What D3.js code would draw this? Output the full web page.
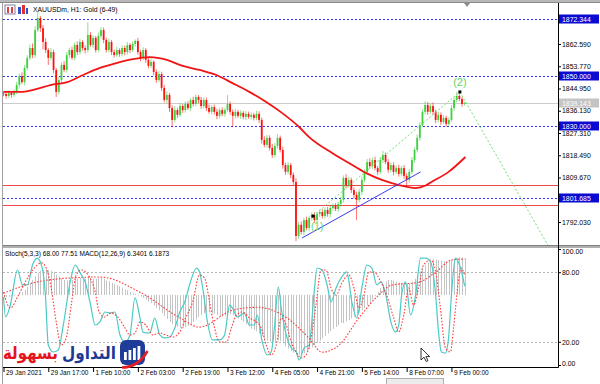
<!DOCTYPE html>
<html>
<head>
<meta charset="utf-8">
<script src="https://cdn.jsdelivr.net/npm/d3@7"></script>
<style>
  html, body { margin: 0; padding: 0; background: #fff; }
  svg { display: block; }
</style>
</head>
<body>
<svg id="chart" width="600" height="384"></svg>
<script>
// ---- data (XAUUSDm H1) ----
const firstOpen = 1843.0;
const closes = [
  1842.8,1842.0,1843.2,1842.4,1843.6,1846.4,1849.9,1847.5,1853.1,1857.1,1861.0,1858.2,1868.1,1872.9,1868.9,1863.4,1860.2,1857.1,1859.4,1852.3,
  1843.6,1848.3,1854.3,1852.3,1858.2,1860.2,1857.1,1862.2,1859.4,1863.4,1861.0,1860.2,1866.2,1862.2,1865.0,1860.2,1865.8,1868.1,1864.2,1860.2,
  1863.4,1859.4,1858.2,1860.2,1858.6,1861.0,1859.4,1862.2,1860.2,1862.6,1863.8,1859.4,1857.1,1860.2,1856.3,1853.9,1855.5,1851.5,1848.3,1850.7,
  1845.2,1840.4,1842.4,1837.2,1832.5,1836.4,1834.5,1838.0,1836.4,1838.8,1837.2,1840.4,1838.8,1841.6,1840.4,1838.0,1840.4,1837.2,1835.7,1837.6,
  1835.7,1834.1,1836.4,1834.9,1836.4,1838.8,1835.7,1834.1,1835.7,1834.1,1835.3,1833.7,1834.9,1833.7,1834.5,1833.3,1834.9,1832.5,1824.6,1822.6,
  1825.4,1821.4,1818.6,1822.2,1825.4,1820.6,1814.6,1811.9,1814.6,1810.7,1807.9,1786.5,1790.9,1788.1,1792.8,1789.7,1793.6,1794.8,1792.8,1795.2,
  1796.0,1794.4,1796.8,1795.2,1797.6,1798.4,1797.2,1799.2,1800.8,1809.5,1806.7,1808.7,1804.7,1802.8,1800.8,1804.0,1808.7,1811.9,1815.8,1814.2,
  1816.6,1813.4,1811.9,1816.6,1818.6,1815.8,1812.7,1814.6,1811.9,1813.4,1811.1,1813.4,1810.3,1808.7,1811.9,1816.6,1820.6,1825.4,1830.5,1835.7,
  1838.4,1835.7,1838.0,1835.7,1832.5,1834.5,1831.7,1833.3,1830.9,1832.5,1837.2,1840.4,1842.0,1840.8,1838.8,1839.1
];
// wick length above / below the body, in dollars
const wickUp = [
  0.8,0.6,1.0,0.7,0.9,1.2,1.0,1.5,1.2,1.0,1.4,1.8,1.5,2.4,0.8,1.2,1.5,0.8,1.6,1.0,
  0.8,1.2,1.0,1.5,1.2,0.9,1.3,1.0,1.4,1.2,0.8,1.0,5.0,1.2,1.0,0.8,1.4,1.2,1.0,0.9,
  1.2,0.8,1.0,1.3,0.7,1.1,0.9,1.2,0.8,1.0,0.6,1.2,0.9,1.1,0.8,1.0,1.3,0.7,1.0,1.2,
  0.9,1.1,1.4,0.8,1.0,1.5,0.9,1.2,0.8,1.0,1.1,0.7,1.3,1.0,0.8,1.2,0.9,1.0,1.4,0.8,
  1.0,1.2,0.9,1.1,0.8,3.6,1.0,0.9,1.2,0.8,1.0,0.7,1.1,0.9,1.0,0.8,1.2,1.0,0.9,1.4,
  1.2,1.0,1.6,1.1,1.5,0.9,1.3,1.0,1.2,0.8,1.0,1.5,1.2,1.4,1.0,1.3,0.9,1.1,1.2,0.8,
  1.0,1.1,0.9,1.2,0.8,1.0,1.1,0.9,1.2,1.0,1.5,1.2,0.9,1.0,1.3,1.1,1.4,1.0,1.2,1.5,
  1.0,1.3,0.9,1.2,1.6,1.0,1.2,0.9,1.1,1.0,1.3,0.8,1.2,1.0,1.1,1.2,1.0,1.4,1.2,1.0,
  1.5,1.2,1.0,1.4,0.9,1.2,1.0,1.1,0.9,1.0,1.2,1.0,1.6,1.2,0.8,0.6
];
const wickDn = [
  0.9,1.0,0.7,1.2,0.8,0.9,1.1,0.8,1.3,1.0,0.9,1.2,1.0,0.8,1.5,3.0,1.2,2.8,1.0,1.3,
  2.0,1.0,1.2,0.9,1.1,1.3,0.8,1.0,1.2,0.9,1.1,1.4,1.0,0.8,1.2,1.0,0.9,1.1,1.3,1.0,
  0.9,1.2,1.0,0.8,1.1,0.9,1.3,1.0,1.2,0.8,1.0,1.1,1.4,0.9,1.2,1.0,0.8,1.3,1.1,0.9,
  1.2,1.0,1.3,1.5,2.8,1.0,1.2,0.9,1.1,1.0,0.8,1.2,1.0,0.9,1.3,1.1,1.0,1.2,0.8,1.0,
  1.1,1.3,0.9,1.0,1.2,0.8,1.1,4.4,1.0,0.9,1.2,1.0,1.3,0.8,1.1,1.0,0.9,1.2,1.5,1.0,
  1.3,1.0,1.2,0.9,1.1,1.0,1.4,1.2,1.0,1.3,1.1,2.0,1.2,1.0,1.4,0.9,1.2,1.0,1.1,0.8,
  1.2,1.0,0.9,1.1,1.3,1.0,0.8,1.2,1.0,1.1,1.4,1.0,1.2,1.5,8.0,1.0,1.2,0.9,1.1,1.0,
  1.2,0.9,1.3,1.0,1.1,0.8,1.2,1.0,1.4,0.9,1.1,1.0,1.2,2.0,1.0,0.9,1.1,1.0,1.2,0.8,
  1.0,1.2,0.9,1.1,1.3,1.0,1.2,0.8,1.1,1.0,0.9,1.2,1.0,0.8,1.1,0.7
];

// moving average (red), sampled at bar positions
const maBar = [0,6.4,11.3,17.8,24.2,30.2,36.6,43.1,49.1,55.5,62,68,74.4,80.8,86.9,93.3,99.7,105.8,112.2,116,124.7,131.1,137.5,143.6,150,156.4,160.2,162.4,168.9,175.3];
const maVal = [1843.6,1843.6,1844.4,1846.3,1847.5,1850.3,1853.1,1855.1,1856.6,1857.4,1856.3,1853.9,1852.3,1850.3,1847.1,1843.6,1839.6,1835.2,1829.7,1825.7,1819.4,1815.4,1811.5,1808.7,1806.7,1805.5,1806.5,1807.9,1811.9,1817.8];

// horizontal levels
const blueLevels = [1872.344, 1850.000, 1830.000, 1801.685];
const redLevels = [1806.7, 1798.8];
const lastPrice = 1839.143;
const priceTicks = [1862.590,1853.770,1844.950,1836.130,1827.310,1818.490,1809.670,1792.030];

// trend line and wave count
const trendBar = [113.3, 158.3];
const trendVal = [1785.7, 1811.9];
const waveBar = [117.5, 173.2, 206.6];
const waveVal = [1794.4, 1843.6, 1782.9];

// stochastic %K / %D
const stochBar = [0,0.8,2.6,5.3,7.2,9.1,11,12.8,14.7,15.9,17,18.9,20.8,22.7,25.3,27.2,29.1,31,32.9,34.8,36.6,38.5,40.4,42.3,44.2,46.1,48,49.9,51.8,52.9,55.5,57.4,59.3,61.2,63.1,65,66.9,68.8,70.6,73.3,74.4,75.6,77.4,79.3,82,83.9,85.8,86.9,88.8,91.4,93.3,95.2,96.3,98.2,100.1,101.6,102.8,104.3,105.4,107.3,109.2,111.1,112.2,114.1,116,117.9,119,120.9,122.8,124.3,126.2,128.4,130.3,132.2,134.1,136,137.9,139.8,141.7,143.2,145.1,147,148.8,150,151.1,152.6,154.5,156.4,158.3,160.2,162.1,164,165.1,166.2,167.7,168.9,170,171.5,172.6,173.7,175];
const stochK = [58.6,41.4,51.7,81.9,69.0,69.0,86.2,92.2,83.6,60.3,17.2,11.2,12.9,34.5,71.6,86.2,79.3,71.6,53.4,34.5,37.1,45.7,44.8,45.7,25.9,19.8,25.9,57.8,40.5,28.4,27.6,40.5,25.9,23.3,24.1,31.9,45.7,54.3,69.0,83.6,80.2,66.4,37.1,21.6,21.6,25.9,51.7,49.1,41.4,44.8,34.5,34.5,43.1,19.8,8.6,11.2,31.9,67.2,49.1,25.9,14.7,11.2,4.3,14.7,17.2,62.9,83.6,81.9,69.0,54.3,66.4,75.9,80.2,54.3,40.5,66.4,86.2,83.6,69.0,71.6,60.3,37.1,28.4,34.5,60.3,71.6,43.1,60.3,92.2,92.2,88.8,60.3,28.4,11.2,10.3,23.3,60.3,92.2,88.8,81.9,68.0];
const sigBar = [0,2.6,5.7,9.1,12.8,14.4,16.2,18.1,20,21.9,23.8,25.7,27.6,29.5,32.1,34.8,36.3,38.2,40.8,43.4,46.1,48,49.9,51.8,54,56.7,59.3,61.6,64.2,66.9,69.1,71.8,74.4,76.3,78.2,80.1,82,84.6,86.5,88.4,90.7,93.3,96,97.8,99.7,101.6,103.5,105.4,107.3,109.2,111.1,113,114.8,116.7,118.6,120.5,122.4,124.3,126.2,128.4,131.1,133,134.9,136.8,138.6,140.5,143.2,145.4,148.1,150,151.9,153.8,155.6,157.5,159.4,162.1,164,165.8,167.7,169.6,170.8,172.6,173.7,175];
const stochD = [62.9,49.1,60.3,75.0,86.2,88.0,83.6,66.4,37.1,17.2,23.3,51.7,77.6,81.9,77.6,62.9,45.7,41.4,44.8,41.4,31.9,25.9,27.6,37.1,34.5,25.9,27.6,25.9,24.1,28.4,40.5,54.3,77.6,75.0,54.3,31.9,19.8,19.8,31.9,43.1,45.7,40.5,37.1,31.9,17.2,8.6,17.2,40.5,34.5,19.8,11.2,6.0,8.6,23.3,51.7,81.9,81.9,66.4,60.3,70.7,77.6,66.4,49.1,60.3,80.2,80.2,71.6,60.3,40.5,28.4,43.1,66.4,51.7,66.4,86.2,90.5,80.2,49.1,14.7,11.2,31.9,71.6,83.6,77.5];
const stochLevels = [80, 20];

// MACD main (histogram, one per bar) and signal
const macdHist = [
  -0.5,-0.4,-0.3,-0.3,-0.2,0,0.3,0.5,0.9, 1.4,2.0,2.6,3.2,3.8,4.2,
  4.3,4.4,4.3,4.2,4.0,3.5, 3.2,2.8,2.6,2.5,2.6,2.6,2.7,2.8,
  2.9,2.8,2.8,3.0,2.9,2.8,2.8,2.9,3.0,2.8,2.5,2.4,
  2.1,1.9,1.7,1.5,1.3,1.0,0.8,0.5,0.3,0.2,
  -0.1,-0.3,-0.5,-0.8,-1.1,-1.4,-1.8,-2.2,-2.6,-3.1,-3.6,-4.1,-4.6,-5.0,-5.2,-5.4,-5.6,-5.6,
  -5.5,-5.3,-5.0,-4.6,-4.2,-3.8,-3.4,-3.1,-3.0,-3.0,-3.1,-3.2,
  -3.4,-3.6,-3.7,-3.6,-3.4,-3.3,-3.5,-3.7,-4.0,-4.3,-4.6,-5.0,-5.4,
  -5.8,-6.0,-6.2,-6.6,-7.0,-7.5,-7.8,-8.0,-8.2,-8.0,-7.8,-7.9,
  -8.3,-8.8,-9.2,-9.6,-9.9,-10.2,-10.3,-10.2,-10.0,-9.7,-9.3,
  -9.0,-8.6,-8.2,-7.8,-7.4,-7.0,-6.6,-6.2,-5.8,-5.5,-5.2,-4.8,
  -4.8,-4.5,-4.3,-4.0,-3.7,-3.4,-3.0,-2.6,-2.2,-1.8,-1.3,-0.8,-0.2,0.5,
  1.2,1.8,2.3,2.6,2.6,2.5,2.3,2.2,2.1,2.0,
  1.9,2.0,2.3,2.8,3.4,4.0,4.6,5.2,5.6,5.9,6.1,6.1,6.0,5.9,5.8,5.8,5.9,6.0,6.2,6.4,6.5,6.4,6.34
];
const macdSigBar = [0,11.3,24.2,36.6,51.8,66.9,74.4,86.9,96.3,105.8,116,120.9,127.3,134.9,142.4,147.3,157.5,164,170,175];
const macdSig = [0.3,2.1,2.9,3.1,0.5,-3.9,-5.5,-2.6,-2.1,-3.4,-7.4,-9.8,-8.6,-3.9,0.0,1.7,2.2,3.9,6.0,6.19];

const timeTicks = [0,17,34,51,68,85,102,119,136,153,170];
const timeLabels = ["29 Jan 2021","29 Jan 17:00","1 Feb 10:00","2 Feb 03:00","2 Feb 19:00","3 Feb 12:00","4 Feb 05:00","4 Feb 21:00","5 Feb 14:00","8 Feb 07:00","9 Feb 00:00"];

// ---- layout ----
const L = 3, R = 558, mainTop = 3, mainBot = 245, indTop = 248, indBot = 367;
const FONT = "'Liberation Sans', Arial, sans-serif";
const upColor = "#3fd03f", dnColor = "#ff1010";

const svg = d3.select("#chart");

const x = d3.scaleLinear().domain([0, 175]).range([3.5, 3.5 + 175 * 2.635]);
const y = d3.scaleLinear().domain([1782.92, 1878.84]).range([mainBot, mainTop]);
const yStoch = d3.scaleLinear().domain([0, 100]).range([365, 249]);
const yMacd = d3.scaleLinear().domain([-12, 7.9]).range([365, 249]);

const defs = svg.append("defs");
defs.append("clipPath").attr("id", "clipMain")
  .append("rect").attr("x", L).attr("y", mainTop).attr("width", R - L).attr("height", mainBot - mainTop);
defs.append("clipPath").attr("id", "clipInd")
  .append("rect").attr("x", L).attr("y", indTop).attr("width", R - L).attr("height", indBot - indTop);

// frame
svg.append("rect").attr("x", 0).attr("y", 0).attr("width", 600).attr("height", 3).attr("fill", "#b8b8b8");
svg.append("line").attr("x1", 0).attr("x2", 600).attr("y1", 2.5).attr("y2", 2.5).attr("stroke", "#8a8a8a");
svg.append("line").attr("x1", 2.5).attr("x2", 2.5).attr("y1", 3).attr("y2", 384).attr("stroke", "#a0a0a0");
svg.append("rect").attr("x", L).attr("y", mainBot).attr("width", 600 - L).attr("height", 3).attr("fill", "#b0b0b0");
svg.append("line").attr("x1", L).attr("x2", 600).attr("y1", mainBot + 0.5).attr("y2", mainBot + 0.5).attr("stroke", "#808080");

// ---- main window ----
const gMain = svg.append("g").attr("clip-path", "url(#clipMain)");

gMain.selectAll(".blue-level").data(blueLevels).enter().append("line")
  .attr("x1", L).attr("x2", R)
  .attr("y1", d => Math.round(y(d)) + 0.5).attr("y2", d => Math.round(y(d)) + 0.5)
  .attr("stroke", "#3434ff").attr("stroke-dasharray", "2,2");

gMain.selectAll(".red-level").data(redLevels).enter().append("line")
  .attr("x1", L).attr("x2", R)
  .attr("y1", d => Math.round(y(d)) + 0.5).attr("y2", d => Math.round(y(d)) + 0.5)
  .attr("stroke", "#f04848");

gMain.append("line").attr("x1", L).attr("x2", R)
  .attr("y1", Math.round(y(lastPrice)) + 0.5).attr("y2", Math.round(y(lastPrice)) + 0.5)
  .attr("stroke", "#cccccc");

const bars = closes.map((c, i) => {
  const o = i === 0 ? firstOpen : closes[i - 1];
  return { i, o, c, h: Math.max(o, c) + wickUp[i], l: Math.min(o, c) - wickDn[i] };
});

const candle = gMain.selectAll(".candle").data(bars).enter().append("g");
candle.append("line")
  .attr("x1", d => x(d.i)).attr("x2", d => x(d.i))
  .attr("y1", d => y(d.h)).attr("y2", d => y(d.l))
  .attr("stroke", d => d.c >= d.o ? upColor : dnColor)
  .attr("stroke-width", 0.8).attr("opacity", 0.75);
candle.append("rect")
  .attr("x", d => x(d.i) - 0.9).attr("width", 1.8)
  .attr("y", d => y(Math.max(d.o, d.c)))
  .attr("height", d => Math.max(0.8, Math.abs(y(d.o) - y(d.c))))
  .attr("fill", d => d.c >= d.o ? upColor : dnColor);

const maLine = d3.line().x(d => x(d[0])).y(d => y(d[1])).curve(d3.curveMonotoneX);
gMain.append("path").datum(maBar.map((b, k) => [b, maVal[k]]))
  .attr("d", maLine).attr("fill", "none").attr("stroke", "#f01414").attr("stroke-width", 1.8);

gMain.append("line")
  .attr("x1", x(trendBar[0])).attr("y1", y(trendVal[0]))
  .attr("x2", x(trendBar[1])).attr("y2", y(trendVal[1]))
  .attr("stroke", "#3c3cf0").attr("stroke-width", 1);

const wavePts = waveBar.map((b, k) => [x(b), y(waveVal[k])]);
gMain.append("path").attr("d", d3.line()(wavePts))
  .attr("fill", "none").attr("stroke", "#72dc72").attr("stroke-width", 1).attr("stroke-dasharray", "2,2");

gMain.selectAll(".wave-mark").data(wavePts.slice(0, 2)).enter().append("rect")
  .attr("x", d => d[0] - 1.5).attr("y", d => d[1] - 1.5).attr("width", 3).attr("height", 3)
  .attr("fill", "#000");

gMain.append("text").attr("x", wavePts[1][0]).attr("y", wavePts[1][1] - 6)
  .attr("text-anchor", "middle").attr("font-family", FONT).attr("font-size", 11)
  .attr("fill", "#5fd65f").text("(2)");
gMain.append("text").attr("x", wavePts[0][0] + 4).attr("y", wavePts[0][1] + 14)
  .attr("text-anchor", "middle").attr("font-family", FONT).attr("font-size", 10)
  .attr("fill", "#5fd65f").text("(1)");

// chart shift marker
svg.append("path").attr("d", "M464,3 L470,3 L467,7 Z").attr("fill", "#8c8c8c");

// header
svg.append("rect").attr("x", 5).attr("y", 5).attr("width", 10).attr("height", 9).attr("fill", "#fff").attr("stroke", "#8080a0");
svg.append("rect").attr("x", 7).attr("y", 7).attr("width", 2).attr("height", 6).attr("fill", "#e04040");
svg.append("rect").attr("x", 11).attr("y", 7).attr("width", 2).attr("height", 6).attr("fill", "#e04040");
svg.append("rect").attr("x", 18).attr("y", 7).attr("width", 3).attr("height", 7).attr("fill", "#3050d0");
svg.append("rect").attr("x", 22).attr("y", 5).attr("width", 3).attr("height", 9).attr("fill", "#e03030");
svg.append("rect").attr("x", 26).attr("y", 8).attr("width", 2).attr("height", 6).attr("fill", "#3050d0");
svg.append("text").attr("x", 33).attr("y", 12).attr("font-family", FONT).attr("font-size", 6.8)
  .attr("fill", "#000").text("XAUUSDm, H1:  Gold (6-49)");

// price axis
const priceAxis = svg.append("g").attr("transform", `translate(${R},0)`)
  .call(d3.axisRight(y).tickValues(priceTicks).tickSize(3).tickPadding(1).tickFormat(d3.format(".3f")));
priceAxis.select(".domain").remove();
priceAxis.selectAll("text").attr("font-family", FONT).attr("font-size", 6.9).attr("fill", "#000");
priceAxis.selectAll("line").attr("stroke", "#000");

const boxes = svg.selectAll(".level-box").data(blueLevels.map(v => ({ v, bg: "#0a0ad2" })).concat([{ v: lastPrice, bg: "#c4c4c4" }]))
  .enter().append("g").attr("transform", d => `translate(${R + 1},${Math.round(y(d.v))})`);
boxes.append("rect").attr("x", 0).attr("y", -4.5).attr("width", 40).attr("height", 9).attr("fill", d => d.bg);
boxes.append("text").attr("x", 3).attr("y", 2.5).attr("font-family", FONT).attr("font-size", 6.9)
  .attr("fill", "#fff").text(d => d3.format(".3f")(d.v));

// ---- indicator window ----
const gInd = svg.append("g").attr("clip-path", "url(#clipInd)");

gInd.selectAll(".lvl").data(stochLevels).enter().append("line")
  .attr("x1", L).attr("x2", R)
  .attr("y1", d => Math.round(yStoch(d)) + 0.5).attr("y2", d => Math.round(yStoch(d)) + 0.5)
  .attr("stroke", "#b4b4b4").attr("stroke-dasharray", "2,2");

gInd.selectAll(".hist").data(macdHist).enter().append("line")
  .attr("x1", (d, i) => Math.round(x(i)) + 0.5).attr("x2", (d, i) => Math.round(x(i)) + 0.5)
  .attr("y1", yMacd(0)).attr("y2", d => yMacd(d))
  .attr("stroke", "#c4c4c4").attr("stroke-width", 1);

const indLine = (sc) => d3.line().x(d => x(d[0])).y(d => sc(d[1])).curve(d3.curveMonotoneX);

gInd.append("path").datum(macdSigBar.map((b, k) => [b, macdSig[k]]))
  .attr("d", indLine(yMacd)).attr("fill", "none")
  .attr("stroke", "#ff3c3c").attr("stroke-width", 1.1).attr("stroke-dasharray", "1.6,1.6");

gInd.append("path").datum(stochBar.map((b, k) => [b, stochK[k]]))
  .attr("d", indLine(yStoch)).attr("fill", "none")
  .attr("stroke", "#4ccac4").attr("stroke-width", 1.2);

gInd.append("path").datum(sigBar.map((b, k) => [b, stochD[k]]))
  .attr("d", indLine(yStoch)).attr("fill", "none")
  .attr("stroke", "#ff3c3c").attr("stroke-width", 1.1).attr("stroke-dasharray", "1.6,1.6");

svg.append("text").attr("x", 5).attr("y", 256).attr("font-family", FONT).attr("font-size", 6.6)
  .attr("fill", "#000").text("Stoch(5,3,3) 68.00 77.51 MACD(12,26,9) 6.3401 6.1873");

const stochAxis = svg.append("g").attr("transform", `translate(${R},0)`)
  .call(d3.axisRight(yStoch).tickValues([100, 80, 20, 0]).tickSize(3).tickPadding(1).tickFormat(d3.format(".2f")));
stochAxis.select(".domain").remove();
stochAxis.selectAll("line").attr("stroke", "#000");
stochAxis.selectAll("text").attr("font-family", FONT).attr("font-size", 6.9).attr("fill", "#000")
  .attr("dy", d => d === 100 ? "0.62em" : d === 0 ? "0.05em" : "0.32em");

// ---- time axis ----
const timeAxis = svg.append("g").attr("transform", `translate(0,${indBot})`)
  .call(d3.axisBottom(x).tickValues(timeTicks).tickSize(5).tickFormat((d, k) => timeLabels[k]));
timeAxis.select(".domain").remove();
timeAxis.selectAll("line").attr("stroke", "#000");
timeAxis.selectAll("text").attr("font-family", FONT).attr("font-size", 6.5).attr("fill", "#000")
  .attr("text-anchor", "start").attr("x", 2).attr("y", 3.5).attr("dy", "0.71em");

// axis borders
svg.append("line").attr("x1", R + 0.5).attr("x2", R + 0.5).attr("y1", mainTop).attr("y2", indBot + 0.5).attr("stroke", "#000");
svg.append("line").attr("x1", L).attr("x2", R + 0.5).attr("y1", indBot + 0.5).attr("y2", indBot + 0.5).attr("stroke", "#000");

// bottom tab
svg.append("rect").attr("x", 386.5).attr("y", 378.5).attr("width", 57).attr("height", 7)
  .attr("fill", "#ececec").attr("stroke", "#b0b0b0");

// ---- logo ----
const logo = svg.append("g");
function fitWidth(sel, x0, x1, baseline, stretchY) {
  const b = sel.node().getBBox();
  const s = (x1 - x0) / b.width;
  sel.attr("transform", `translate(${x0 - b.x * s},${baseline}) scale(${s},${s * stretchY})`);
}
const t1 = logo.append("text").attr("x", 0).attr("y", 0)
  .attr("font-family", "'DejaVu Sans', sans-serif").attr("font-weight", "bold").attr("font-size", 20)
  .attr("fill", "#e3141c").text("بسهولة");
fitWidth(t1, 3, 58, 359, 1.15);
const t2 = logo.append("text").attr("x", 0).attr("y", 0)
  .attr("font-family", "'DejaVu Sans', sans-serif").attr("font-weight", "bold").attr("font-size", 20)
  .attr("fill", "#1c3a94").text("التداول");
fitWidth(t2, 62, 116, 359, 1.15);

logo.append("rect").attr("x", 120).attr("y", 340).attr("width", 25).attr("height", 25).attr("rx", 6)
  .attr("fill", "#1f3d98");
[[124, 8], [128.5, 10], [133, 12], [137.5, 14]].forEach(([bx, bh]) => {
  logo.append("rect").attr("x", bx).attr("y", 360 - bh).attr("width", 2.8).attr("height", bh).attr("fill", "#fff");
});
logo.append("path").attr("d", "M122,367.5 Q138,367.5 147.5,351").attr("fill", "none")
  .attr("stroke", "#e01e26").attr("stroke-width", 2.6);

// mouse cursor
svg.append("path").attr("transform", "translate(421,348)")
  .attr("d", "M0,0 L0,12 L3,9.2 L5.2,13.5 L7,12.7 L4.9,8.6 L8.6,8.6 Z")
  .attr("fill", "#fff").attr("stroke", "#000").attr("stroke-width", 0.8);
</script>
</body>
</html>
